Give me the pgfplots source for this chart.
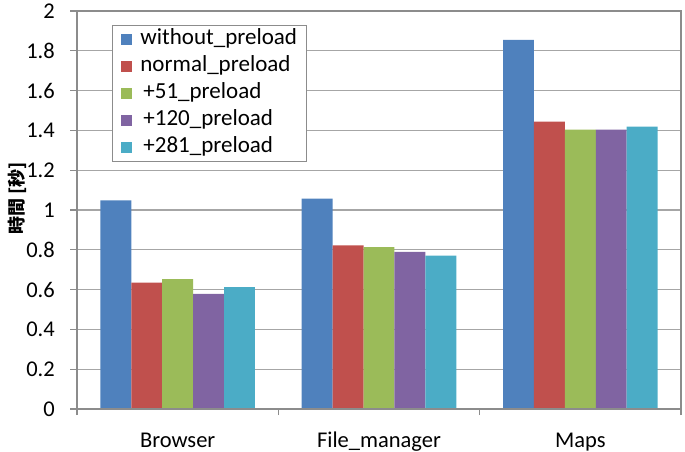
\documentclass[border=0pt]{standalone}
\usepackage{fontspec}
\setmainfont{Carlito}
\newfontfamily\cjk{Noto Sans CJK JP}
\usepackage{pgfplots}
\pgfplotsset{compat=1.18}
\definecolor{cA}{HTML}{4F81BD}
\definecolor{cB}{HTML}{C0504D}
\definecolor{cC}{HTML}{9BBB59}
\definecolor{cD}{HTML}{8064A2}
\definecolor{cE}{HTML}{4BACC6}
\definecolor{gridc}{HTML}{A6A6A6}
\definecolor{axc}{HTML}{8C8C8C}
\begin{document}
\begin{tikzpicture}[x=1pt,y=1pt]
\useasboundingbox (0,0) rectangle (685,452);
\begin{axis}[
  at={(77pt,43pt)}, anchor=south west,
  scale only axis, width=604pt, height=398pt,
  ymin=0, ymax=2,
  ytick={0,0.2,0.4,0.6,0.8,1,1.2,1.4,1.6,1.8,2},
  yticklabels={0,0.2,0.4,0.6,0.8,1,1.2,1.4,1.6,1.8,2},
  xmin=-0.5, xmax=2.5,
  xtick={0,1,2},
  xticklabels={Browser,File\_manager,Maps},
  major x tick style={draw=none},
  minor xtick={-0.5,0.5,1.5,2.5},
  minor x tick style={draw=axc, line width=1.2pt},
  major y tick style={draw=axc, line width=1.2pt},
  tick align=outside,
  major tick length=7pt, minor tick length=6pt,
  xtick pos=bottom, ytick pos=left,
  ymajorgrids, grid style={draw=gridc, line width=1.3pt},
  axis line style={draw=axc, line width=1.3pt},
  ybar=0pt, bar width=0.1535,
  tick label style={font=\fontsize{22.5}{26}\selectfont},
  yticklabel style={anchor=east, inner sep=0pt, xshift=-15pt},
  xticklabel style={anchor=north, inner sep=0pt, text height=15pt, text depth=5pt, yshift=-16pt},
  /pgf/number format/assume math mode=true,
  every axis y label/.style={at={(axis description cs:-0.099,0.529)}, rotate=90, anchor=center},
  ylabel={\cjk\bfseries\fontsize{18}{20}\selectfont 時間 [秒]},
  legend style={at={(axis description cs:0.0578,0.965)}, anchor=north west,
    draw=axc, line width=1pt, fill=white,
    font=\fontsize{23}{26}\selectfont,
    nodes={inner sep=0pt, text height=15pt, text depth=5pt, anchor=west},
    row sep=7pt, inner xsep=9pt, inner ysep=4pt},
  legend cell align=left,
  legend image code/.code={\fill[#1, draw=none] (0pt,-5.5pt) rectangle (11pt,5.5pt); \path (19pt,0pt);},
  extra description/.code={\draw[axc, line width=1.5pt] (0,0) rectangle (1,1);},
]
\addplot[fill=cA, draw=none] coordinates {(0,1.048) (1,1.057) (2,1.855)};
\addplot[fill=cB, draw=none] coordinates {(0,0.635) (1,0.822) (2,1.444)};
\addplot[fill=cC, draw=none] coordinates {(0,0.653) (1,0.814) (2,1.404)};
\addplot[fill=cD, draw=none] coordinates {(0,0.578) (1,0.789) (2,1.404)};
\addplot[fill=cE, draw=none] coordinates {(0,0.612) (1,0.771) (2,1.419)};
\legend{without\_preload,normal\_preload,\hspace{3pt}+51\_preload,\hspace{3pt}+120\_preload,\hspace{3pt}+281\_preload}
\end{axis}
\end{tikzpicture}
\end{document}
